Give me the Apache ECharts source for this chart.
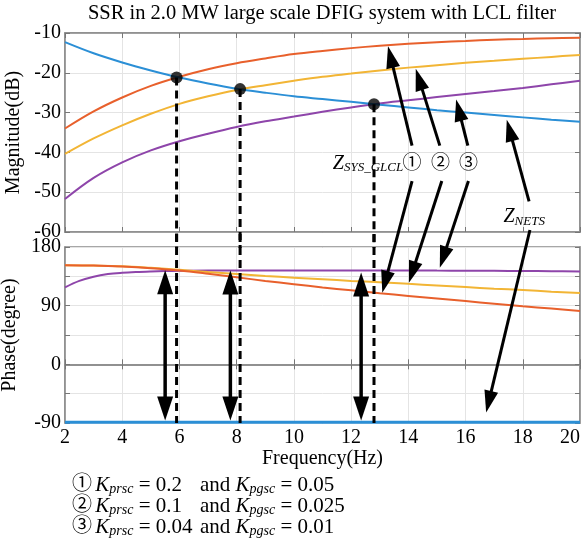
<!DOCTYPE html>
<html>
<head>
<meta charset="utf-8">
<script src="https://cdn.jsdelivr.net/npm/echarts@6/dist/echarts.min.js"></script>
<style>
  html, body { margin: 0; padding: 0; background: #fff; }
  #chart { width: 583px; height: 544px; }
</style>
</head>
<body>
<div id="chart"></div>
<script>
// Frequency samples (Hz)
const freq = [2, 3, 4, 5, 6, 7, 8, 9, 10, 11, 12, 13, 14, 15, 16, 17, 18, 19, 20];
// finer sampling where the ③ phase curve bends
const freqFine = [2, 2.5, 3, 3.5, 4, 4.5, 5, 5.5, 6, 7, 8, 9, 10, 11, 12, 13, 14, 15, 16, 17, 18, 19, 20];

// Magnitude (dB)
const magNets = [-12.3, -15.1, -17.4, -19.4, -21.2, -22.7, -24.0, -25.0, -25.9, -26.6, -27.3, -28.0, -28.7, -29.4, -30.0, -30.6, -31.2, -31.8, -32.3];
const magSys1 = [-34.0, -29.7, -26.2, -23.3, -21.0, -19.1, -17.6, -16.4, -15.3, -14.5, -13.8, -13.2, -12.7, -12.3, -12.0, -11.7, -11.5, -11.3, -11.2];
const magSys2 = [-40.4, -36.5, -33.2, -30.3, -27.8, -25.9, -24.3, -23.1, -22.0, -21.0, -20.2, -19.4, -18.7, -18.1, -17.5, -17.0, -16.5, -16.0, -15.5];
const magSys3 = [-51.7, -46.4, -42.5, -39.5, -37.2, -35.3, -33.6, -32.2, -31.0, -29.8, -28.7, -27.7, -26.9, -26.1, -25.3, -24.6, -23.8, -22.9, -22.0];

// Phase (degree)
const phNets = [-89, -89, -89, -89, -89, -89, -89, -89, -89, -89, -89, -89, -89, -89, -89, -89, -89, -89, -89];
const phSys1 = [152, 151.5, 150, 147.5, 144, 139, 133.5, 128, 123, 118, 113.5, 109, 105, 101, 97, 93, 89, 85.5, 82];
const phSys2 = [152, 151.5, 150.5, 148, 145, 141.5, 138.5, 135.5, 133, 130.5, 128, 126, 123.5, 121, 118.5, 116, 114, 111.5, 109.5];
const phSys3 = [118, 128, 134.5, 138.5, 140.5, 141.7, 142.5, 143.1, 143.5, 144, 144, 144, 144, 144, 144, 144, 144, 143.8, 143.6, 143.4, 143.2, 142.8, 142.5];

// Intersection points of Z_NETS with each Z_SYS_GLCL curve
const crossFreq = [5.9, 8.12, 12.8];
const crossMag = [-21.2, -24.1, -27.9];

// Phase-margin double arrows
const marginFreq = [5.5, 7.78, 12.35];
const marginTop = [144.5, 144, 141];
const marginBottom = -86;

// Axis ticks
const xMin = 2, xMax = 20, xStep = 2;
const magMin = -60, magMax = -10, magStep = 10;
const phMin = -90, phMax = 180, phStep = 45;

const COLORS = { nets: '#2b8fd6', sys1: '#e8602c', sys2: '#f2b535', sys3: '#8e45aa' };
const SERIF = "'Liberation Serif', 'Times New Roman', serif";
const SYM = "'Liberation Serif', 'Noto Sans CJK JP', 'DejaVu Sans', serif";
const FRAME = '#8a8a8a';
const GRIDLINE = '#e4e4e4';

const chart = echarts.init(document.getElementById('chart'), null, { renderer: 'canvas' });

const zip = (xs, ys) => xs.map((x, i) => [x, ys[i]]);

function baseX(gridIndex, extra) {
  return Object.assign({
    type: 'value', gridIndex: gridIndex, min: xMin, max: xMax, interval: xStep,
    axisLine: { show: true, lineStyle: { color: FRAME, width: 1.5 } },
    axisTick: { show: true, inside: true, length: 5, lineStyle: { color: '#777' } },
    splitLine: { show: false },
    axisLabel: { show: false }
  }, extra);
}
function baseY(gridIndex, min, max, step, extra) {
  return Object.assign({
    type: 'value', gridIndex: gridIndex, min: min, max: max, interval: step,
    axisLine: { show: true, lineStyle: { color: FRAME, width: 1.5 } },
    axisTick: { show: true, inside: true, length: 5, lineStyle: { color: '#777' } },
    splitLine: { show: false },
    axisLabel: { show: false }
  }, extra);
}

const labelStyle = { color: '#000', fontFamily: SERIF, fontSize: 20 };
const nameStyle = { color: '#000', fontFamily: SERIF, fontSize: 20 };

function curve(name, data, color, xi, yi, width) {
  return {
    name: name, type: 'line', xAxisIndex: xi, yAxisIndex: yi, data: data,
    showSymbol: false, smooth: 0.35,
    lineStyle: { color: color, width: width || 2 }, z: 3
  };
}
function dashed(xi, yi, pts) {
  return {
    type: 'line', xAxisIndex: xi, yAxisIndex: yi, data: pts, clip: false,
    showSymbol: false, silent: true,
    lineStyle: { color: '#000', width: 3, type: [8, 5] }, z: 5
  };
}

const series = [
  curve('Z_SYS ③ mag', zip(freq, magSys3), COLORS.sys3, 0, 0),
  curve('Z_SYS ② mag', zip(freq, magSys2), COLORS.sys2, 0, 0),
  curve('Z_SYS ① mag', zip(freq, magSys1), COLORS.sys1, 0, 0),
  curve('Z_NETS mag', zip(freq, magNets), COLORS.nets, 0, 0),
  curve('Z_SYS ③ phase', zip(freqFine, phSys3), COLORS.sys3, 1, 1),
  curve('Z_SYS ② phase', zip(freq, phSys2), COLORS.sys2, 1, 1),
  curve('Z_SYS ① phase', zip(freq, phSys1), COLORS.sys1, 1, 1),
  curve('Z_NETS phase', zip(freq, phNets), COLORS.nets, 1, 1, 3)
];
crossFreq.forEach((f, i) => {
  series.push(dashed(0, 0, [[f, crossMag[i]], [f, magMin - 4]]));
  series.push(dashed(1, 1, [[f, phMax + 20], [f, phMin]]));
});
series.push({
  type: 'scatter', xAxisIndex: 0, yAxisIndex: 0,
  data: zip(crossFreq, crossMag), symbolSize: 12,
  itemStyle: { color: '#000' }, z: 10, silent: true
});

chart.setOption({
  animation: false,
  backgroundColor: '#fff',
  grid: [
    { left: 65, right: 3, top: 33, height: 199, show: true, borderColor: FRAME, borderWidth: 1.5, backgroundColor: '#fff', outerBoundsMode: 'none' },
    { left: 65, right: 3, top: 247, height: 176, show: true, borderColor: FRAME, borderWidth: 1.5, backgroundColor: '#fff', outerBoundsMode: 'none' }
  ],
  xAxis: [
    baseX(0, { splitLine: { show: true, lineStyle: { color: GRIDLINE, width: 1 } } }),
    baseX(1, {
      splitLine: { show: true, lineStyle: { color: GRIDLINE, width: 1 } },
      axisLabel: Object.assign({ show: true, margin: 5, alignMaxLabel: 'right' }, labelStyle),
      name: 'Frequency(Hz)', nameLocation: 'middle', nameGap: 25, nameTextStyle: nameStyle
    }),
    baseX(0, { position: 'top' }),
    baseX(1, { position: 'top' })
  ],
  yAxis: [
    baseY(0, magMin, magMax, magStep, {
      splitLine: { show: true, lineStyle: { color: GRIDLINE, width: 1 } },
      axisLabel: Object.assign({ show: true, margin: 4 }, labelStyle),
      name: 'Magnitude(dB)', nameLocation: 'middle', nameGap: 39, nameRotate: 90, nameTextStyle: nameStyle
    }),
    baseY(1, phMin, phMax, phStep, {
      splitLine: { show: true, lineStyle: { color: GRIDLINE, width: 1 } },
      axisLabel: Object.assign({ show: true, margin: 4, formatter: v => (v % 90 === 0 ? String(v) : '') }, labelStyle),
      name: 'Phase(degree)', nameLocation: 'middle', nameGap: 39, nameRotate: 90, nameTextStyle: nameStyle
    }),
    baseY(0, magMin, magMax, magStep, { position: 'right' }),
    baseY(1, phMin, phMax, phStep, { position: 'right' })
  ],
  series: series
});

// ---- annotations: arrows and labels placed through the axes ----
const toPx = (g, p) => chart.convertToPixel({ gridIndex: g }, p);

function arrowGraphics(tail, tip, opt) {
  const o = Object.assign({ head: 22, half: 7, width: 3, double: false }, opt);
  const dx = tip[0] - tail[0], dy = tip[1] - tail[1];
  const len = Math.hypot(dx, dy), ux = dx / len, uy = dy / len;
  const out = [];
  const headAt = (p, sx, sy) => {
    const b = [p[0] - sx * o.head, p[1] - sy * o.head];
    return {
      type: 'polygon', silent: true, z: 20,
      shape: { points: [p, [b[0] - sy * o.half, b[1] + sx * o.half], [b[0] + sy * o.half, b[1] - sx * o.half]] },
      style: { fill: '#000' }
    };
  };
  const end = [tip[0] - ux * (o.head - 2), tip[1] - uy * (o.head - 2)];
  const start = o.double ? [tail[0] + ux * (o.head - 2), tail[1] + uy * (o.head - 2)] : tail;
  out.push({
    type: 'line', silent: true, z: 20,
    shape: { x1: start[0], y1: start[1], x2: end[0], y2: end[1] },
    style: { stroke: '#000', lineWidth: o.width }
  });
  out.push(headAt(tip, ux, uy));
  if (o.double) out.push(headAt(tail, -ux, -uy));
  return out;
}

// label -> curve arrows: [grid of tail, tail, grid of tip, tip]
const pointerArrows = [
  [0, [14.13, -38.3], 0, [13.29, -13.3]],
  [0, [15.10, -38.3], 0, [14.26, -19.0]],
  [0, [16.08, -38.3], 0, [15.67, -26.7]],
  [0, [18.22, -52.3], 0, [17.44, -31.8]],
  [0, [14.13, -47.2], 1, [13.09, 110]],
  [0, [15.17, -47.2], 1, [14.02, 125]],
  [0, [16.10, -47.2], 1, [15.10, 148]],
  [0, [18.25, -59.5], 1, [16.72, -74]]
];

let graphics = [];
pointerArrows.forEach(a => {
  graphics = graphics.concat(arrowGraphics(toPx(a[0], a[1]), toPx(a[2], a[3]), {}));
});
marginFreq.forEach((f, i) => {
  graphics = graphics.concat(arrowGraphics(toPx(1, [f, marginBottom]), toPx(1, [f, marginTop[i]]),
    { double: true, head: 24, half: 8, width: 3.5 }));
});

function makeRich(size, subSize) {
  return {
    z: { fontFamily: SERIF, fontStyle: 'italic', fontSize: size, lineHeight: size + 2, fill: '#000' },
    s: { fontFamily: SERIF, fontStyle: 'italic', fontSize: subSize, lineHeight: subSize - 1, verticalAlign: 'bottom', fill: '#000' },
    m: { fontFamily: SERIF, fontSize: size, lineHeight: size + 2, fill: '#000' },
    c: { fontFamily: SYM, fontSize: size - 1, lineHeight: size + 2, fill: '#000' }
  };
}
const plotRich = makeRich(20, 13);
const noteRich = makeRich(21, 14);

function richText(text, x, y, align, rich) {
  return {
    type: 'text', silent: true, z: 25,
    style: { text: text, x: x, y: y, align: align || 'left', verticalAlign: 'middle', rich: rich || plotRich, fill: '#000' }
  };
}

const sysLabel = toPx(0, [13.82, -42.8]);
graphics.push(richText('{z|Z}{s|SYS_GLCL}', sysLabel[0], sysLabel[1], 'right'));
[14.13, 15.12, 16.1].forEach((f, i) => {
  const p = toPx(0, [f, -42.8]);
  graphics.push(richText('{c|' + ['①', '②', '③'][i] + '}', p[0], p[1], 'center'));
});
const netsLabel = toPx(0, [18.05, -56.2]);
graphics.push(richText('{z|Z}{s|NETS}', netsLabel[0], netsLabel[1], 'center'));

// title
graphics.push({
  type: 'text', silent: true, z: 25,
  style: { text: 'SSR in 2.0 MW large scale DFIG system with LCL filter', x: 322, y: 14,
    align: 'center', verticalAlign: 'middle', fontFamily: SERIF, fontSize: 20.5, fill: '#000' }
});

// parameter notes under the axis
const notes = [
  ['{c|①} {z|K}{s|prsc}{m| = 0.2}', '{m|and }{z|K}{s|pgsc}{m| = 0.05}'],
  ['{c|②} {z|K}{s|prsc}{m| = 0.1}', '{m|and }{z|K}{s|pgsc}{m| = 0.025}'],
  ['{c|③} {z|K}{s|prsc}{m| = 0.04}', '{m|and }{z|K}{s|pgsc}{m| = 0.01}']
];
notes.forEach((n, i) => {
  const y = 485 + i * 21;
  graphics.push(richText(n[0], 72, y, 'left', noteRich));
  graphics.push(richText(n[1], 200, y, 'left', noteRich));
});

chart.setOption({ graphic: graphics });
</script>
</body>
</html>
